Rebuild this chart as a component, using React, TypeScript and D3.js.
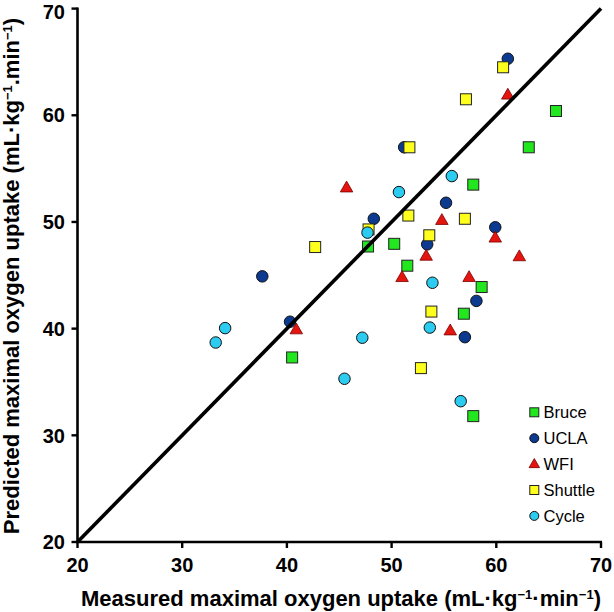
import React from "react";
import * as d3 from "d3";

const bruceX = [65.7, 63.1, 57.8, 50.25, 47.75, 51.5, 58.6, 56.9, 40.5, 57.8];
const bruceY = [60.4, 57.0, 53.5, 47.95, 47.7, 45.9, 43.9, 41.4, 37.3, 31.8];
const uclaX = [61.1, 51.2, 55.2, 48.3, 53.4, 59.9, 37.65, 40.3, 58.1, 57.0];
const uclaY = [65.3, 57.0, 51.8, 50.3, 47.9, 49.5, 44.9, 40.65, 42.6, 39.2];
const wfiX = [61.1, 45.7, 54.8, 59.9, 53.3, 62.2, 51.0, 57.4, 40.9, 55.6];
const wfiY = [61.9, 53.2, 50.15, 48.5, 46.8, 46.75, 44.8, 44.8, 39.9, 39.8];
const shuttleX = [60.65, 57.1, 51.7, 51.6, 57.0, 47.8, 53.6, 42.7, 53.8, 52.8];
const shuttleY = [64.5, 61.5, 57.0, 50.6, 50.3, 49.3, 48.75, 47.65, 41.6, 36.3];
const cycleX = [55.75, 50.7, 47.7, 53.9, 34.1, 33.2, 47.2, 53.65, 45.5, 56.6];
const cycleY = [54.3, 52.8, 49.0, 44.3, 40.05, 38.7, 39.15, 40.1, 35.3, 33.2];

const seriesNames = ["Bruce", "UCLA", "WFI", "Shuttle", "Cycle"];
const xTicks = [20, 30, 40, 50, 60, 70];
const yTicks = [20, 30, 40, 50, 60, 70];

type Shape = "square" | "circle" | "triangle";
const series: { name: string; xs: number[]; ys: number[]; shape: Shape; color: string }[] = [
  { name: seriesNames[0], xs: bruceX, ys: bruceY, shape: "square", color: "#22e61e" },
  { name: seriesNames[1], xs: uclaX, ys: uclaY, shape: "circle", color: "#0b3a90" },
  { name: seriesNames[2], xs: wfiX, ys: wfiY, shape: "triangle", color: "#e4140f" },
  { name: seriesNames[3], xs: shuttleX, ys: shuttleY, shape: "square", color: "#ffff1e" },
  { name: seriesNames[4], xs: cycleX, ys: cycleY, shape: "circle", color: "#2ccbf0" },
];

const W = 614;
const H = 612;
const left = 77.5;
const right = 601;
const top = 8.6;
const bottom = 542;

const x = d3.scaleLinear().domain([20, 70]).range([left, right]);
const y = d3.scaleLinear().domain([20, 70]).range([bottom, top]);

function Marker({ shape, cx, cy, color, size }: { shape: Shape; cx: number; cy: number; color: string; size: number }) {
  if (shape === "circle") {
    return <circle cx={cx} cy={cy} r={size / 2} fill={color} stroke="#111" strokeWidth={1} />;
  }
  if (shape === "square") {
    return (
      <rect x={cx - size / 2} y={cy - size / 2} width={size} height={size} fill={color} stroke="#222" strokeWidth={1} />
    );
  }
  const area = (size * size * Math.sqrt(3)) / 4;
  const s = d3.symbol().type(d3.symbolTriangle).size(area)();
  return <path d={s || ""} transform={`translate(${cx},${cy + 0.5})`} fill={color} stroke="#7a0000" strokeWidth={0.8} />;
}

function Sup({ children }: { children: string }) {
  return (
    <tspan baselineShift="super" fontSize="13">
      {children}
    </tspan>
  );
}

export default function App() {
  const font = "'Liberation Sans', Arial, sans-serif";
  return (
    <div style={{ position: "absolute", left: 0, top: 0 }}>
      <svg width={W} height={H} style={{ display: "block", background: "#fff" }} fontFamily={font}>
        {/* points */}
        {series.map((s) =>
          s.xs.map((v, i) => (
            <Marker key={s.name + i} shape={s.shape} cx={x(v)} cy={y(s.ys[i])} color={s.color} size={s.shape === "circle" ? 11.5 : s.shape === "square" ? 11 : 12.5} />
          ))
        )}
        {/* identity line */}
        <line x1={x(20)} y1={y(20)} x2={x(70)} y2={y(70)} stroke="#000" strokeWidth={3.6} />
        {/* axes */}
        <line x1={left} y1={top - 1} x2={left} y2={bottom + 1} stroke="#000" strokeWidth={2.6} />
        <line x1={left - 1} y1={bottom} x2={right + 1} y2={bottom} stroke="#000" strokeWidth={2.6} />
        {xTicks.map((t) => (
          <g key={"xt" + t}>
            <line x1={x(t)} x2={x(t)} y1={bottom} y2={bottom + 6} stroke="#000" strokeWidth={2.4} />
            <text x={x(t)} y={572} textAnchor="middle" fontSize={20} fontWeight="bold">
              {t}
            </text>
          </g>
        ))}
        {yTicks.map((t) => (
          <g key={"yt" + t}>
            <line x1={left - 6} x2={left} y1={y(t)} y2={y(t)} stroke="#000" strokeWidth={2.4} />
            <text x={65} y={Math.max(y(t), 12)} dy="0.36em" textAnchor="end" fontSize={20} fontWeight="bold">
              {t}
            </text>
          </g>
        ))}
        {/* axis titles */}
        <text x={341} y={606} textAnchor="middle" fontSize={22} fontWeight="bold">
          Measured maximal oxygen uptake (mL·kg<Sup>−1</Sup>·min<Sup>−1</Sup>)
        </text>
        <text transform={`translate(19,276) rotate(-90)`} textAnchor="middle" fontSize={22} fontWeight="bold">
          Predicted maximal oxygen uptake (mL·kg<Sup>−1</Sup>.min<Sup>−1</Sup>)
        </text>
        {/* legend */}
        {series.map((s, i) => {
          const ly = 412.3 + i * 25.9;
          return (
            <g key={"lg" + s.name}>
              <Marker shape={s.shape} cx={534.3} cy={ly} color={s.color} size={s.shape === "triangle" ? 10.5 : 9} />
              <text x={543.5} y={ly} dy="0.36em" fontSize={16.5}>
                {s.name}
              </text>
            </g>
          );
        })}
      </svg>
    </div>
  );
}
